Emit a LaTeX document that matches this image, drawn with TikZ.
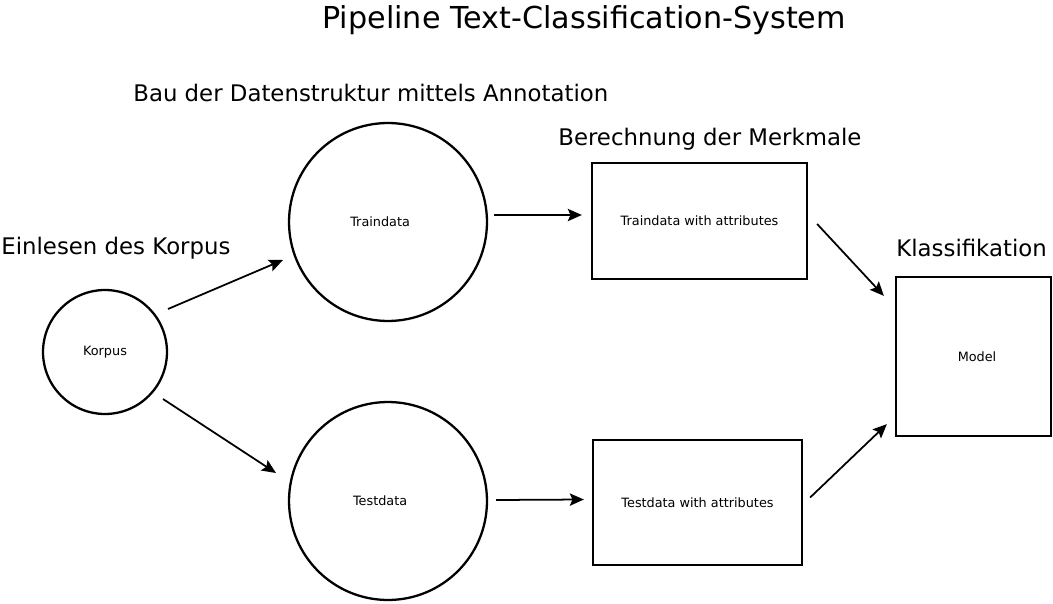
\documentclass[tikz,border=0pt]{standalone}
\usepackage{fontspec}
\setmainfont{DejaVu Sans}
\usetikzlibrary{arrows.meta}
\tikzset{
  kreis/.style = {draw, circle, line width=1.3pt, inner sep=0pt, font=\fontsize{7.3}{8}\selectfont},
  kasten/.style = {draw, rectangle, line width=1.3pt, inner sep=0pt, font=\fontsize{7.3}{8}\selectfont},
  stufe/.style = {anchor=base west, inner sep=0pt, font=\fontsize{13}{15}\selectfont},
  pfeil/.style = {-{Stealth[length=8pt,width=7pt,inset=1.5pt]}, line width=1pt}
}
\begin{document}
\begin{tikzpicture}[x=0.02cm, y=-0.02cm]
\useasboundingbox (0,0) rectangle (1053,604);
\node[anchor=base west, inner sep=0pt, font=\fontsize{17.2}{20}\selectfont] (titel) at (322,29) {Pipeline Text-Classification-System};
\node[stufe] (bau) at (133,102) {Bau der Datenstruktur mittels Annotation};
\node[stufe] (merkmale) at (558,146) {Berechnung der Merkmale};
\node[stufe] (einlesen) at (1,255) {Einlesen des Korpus};
\node[stufe] (klass) at (896,256) {Klassifikation};

\node[kreis, minimum size=2.48cm] (korpus) at (105,352) {Korpus};
\node[kreis, minimum size=3.96cm] (train) at (388,222) {Traindata\kern9pt};
\node[kreis, minimum size=3.96cm] (test) at (388,501) {Testdata\kern9pt};
\node[kasten, minimum width=4.3cm, minimum height=2.32cm] (trainattr) at (699.5,221) {Traindata with attributes};
\node[kasten, minimum width=4.18cm, minimum height=2.5cm] (testattr) at (697.5,502.5) {Testdata with attributes};
\node[kasten, minimum width=3.1cm, minimum height=3.18cm] (model) at (973.5,356.5) {\kern4pt Model};

\draw[pfeil] ([shift={(63,-43)}]korpus.center) -- ([shift={(-105,38)}]train.center);
\draw[pfeil] ([shift={(58,47)}]korpus.center) -- ([shift={(-112,-28)}]test.center);
\draw[pfeil] ([shift={(6,-7)}]train.east) -- ([shift={(-9,-6)}]trainattr.west);
\draw[pfeil] ([shift={(8,-1)}]test.east) -- ([shift={(-8,-3)}]testattr.west);
\draw[pfeil] ([shift={(9,3)}]trainattr.east) -- ([shift={(-11,20)}]model.north west);
\draw[pfeil] ([shift={(7,-5)}]testattr.east) -- ([shift={(-8,-13)}]model.south west);
\end{tikzpicture}
\end{document}
